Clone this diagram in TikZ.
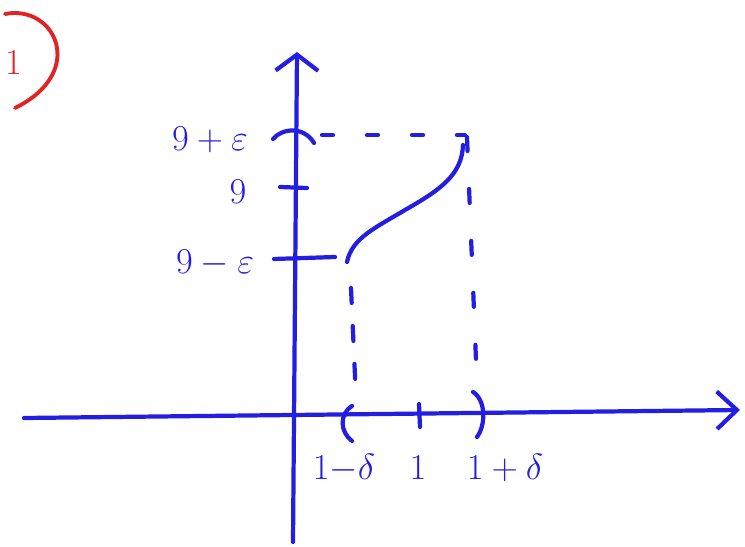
\documentclass[tikz,border=0pt]{standalone}
\usepackage{amsmath, amssymb}
\usepackage{xcolor}
\usetikzlibrary{arrows.meta}
\definecolor{pen}{RGB}{35,30,225}
\definecolor{redpen}{RGB}{225,35,35}

\begin{document}
\begin{tikzpicture}[x=0.02cm, y=-0.02cm, font=\huge, line cap=round, line join=round]
  \tikzset{
    ink/.style={pen, line width=2.4pt},
    guide/.style={pen, line width=2.4pt, dash pattern=on 0.26cm off 0.7cm},
    lbl/.style={text=pen, inner sep=1pt}
  }
  \useasboundingbox (0,0) rectangle (745,547);
  % number of the exercise
  \node[text=redpen, inner sep=0pt] (num) at (14,62) {1};
  \draw[redpen, line width=2.2pt] (5,14) .. controls (55,4) and (88,72) .. (15,108);
  % axes
  \coordinate (xs) at (24,418);
  \coordinate (xe) at (740,410);
  \coordinate (ys) at (293,542);
  \coordinate (ye) at (297,52);
  \draw[ink, -{Straight Barb[length=0.4cm, width=0.75cm]}] (xs) -- (xe);
  \draw[ink, -{Straight Barb[length=0.32cm, width=0.85cm]}] (ys) -- (ye);
  % ticks on the y axis
  \draw[ink] (273,139) .. controls (282,128) and (304,126) .. (314,143);
  \draw[ink] (280,187) -- (307,188);
  \draw[ink] (274,259) -- (335,257);
  % ticks on the x axis
  \draw[ink] (352,406) .. controls (339,414) and (340,432) .. (352,441);
  \draw[ink] (419,404) -- (420,427);
  \draw[ink] (473,392) .. controls (486,400) and (486,425) .. (477,437);
  % the function
  \coordinate (lo) at (347,262);
  \coordinate (hi) at (463,145);
  \draw[ink] (lo) .. controls (352,238) and (375,228) .. (405,210)
    .. controls (440,190) and (462,175) .. (hi);
  % guide lines
  \draw[guide, dash pattern=on 0.22cm off 0.68cm] (322,135) -- (465,135);
  \draw[guide, dash pattern=on 0.3cm off 0.46cm] (351,288) -- (356,398);
  \draw[guide, dash pattern=on 0.28cm off 0.76cm] (467,137) -- (477,385);
  % labels
  \node[lbl] (yhi) at (210,140) {$9+\varepsilon$};
  \node[lbl] (ymid) at (238,192) {$9$};
  \node[lbl] (ylo) at (215,263) {$9-\varepsilon$};
  \node[lbl] (xlo) at (344,468) {$1{-}\delta$};
  \node[lbl] (xmid) at (418,468) {$1$};
  \node[lbl] (xhi) at (505,468) {$1+\delta$};
\end{tikzpicture}
\end{document}
